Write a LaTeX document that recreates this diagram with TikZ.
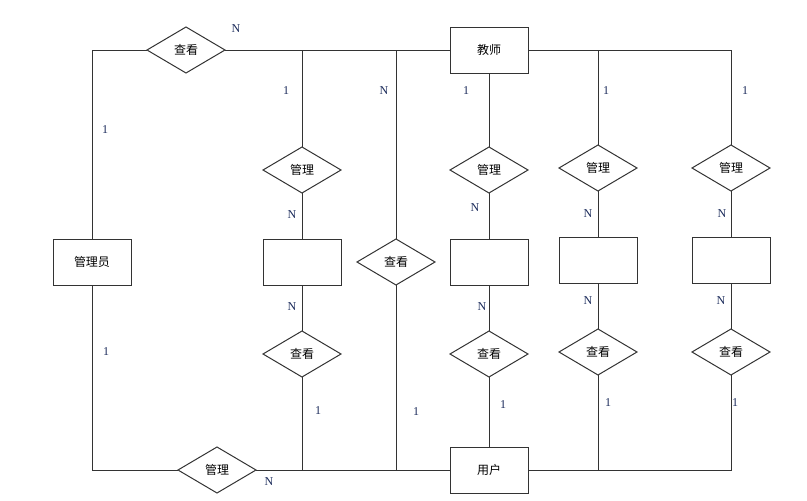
\documentclass[tikz,border=0pt]{standalone}
\usepackage{fontspec}
\setmainfont{Liberation Serif}
\newfontfamily\cjk{Noto Sans CJK SC}
\usetikzlibrary{shapes.geometric}
\definecolor{lbl}{HTML}{1A2A5A}
\tikzset{
  ent/.style={draw=black!80, line width=1pt, rectangle, minimum width=78pt, minimum height=46pt, inner sep=0pt, outer sep=0pt, font=\cjk\fontsize{12}{13}\selectfont},
  rel/.style={draw=black!80, line width=1pt, diamond, aspect=1.7, minimum width=78pt, minimum height=46pt, inner sep=0pt, outer sep=0pt, font=\cjk\fontsize{12}{13}\selectfont},
  conn/.style={draw=black!80, line width=1pt},
  card/.style={text=lbl, font=\fontsize{12}{13}\selectfont, inner sep=0pt}
}
\begin{document}
\begin{tikzpicture}[x=1pt,y=-1pt]
\useasboundingbox (0,0) rectangle (807,501);
% entities
\node[ent] (js) at (489,50) {教师};
\node[ent] (gly) at (92,262) {管理员};
\node[ent] (yh) at (489,470) {用户};
\node[ent] (b1) at (302,262) {};
\node[ent] (b2) at (489,262) {};
\node[ent] (b3) at (598,260) {};
\node[ent] (b4) at (731,260) {};
% relations
\node[rel] (ckt) at (186,50) {查看};
\node[rel] (glb) at (217,470) {管理};
\node[rel] (ckm) at (396,262) {查看};
\node[rel] (g1) at (302,170) {管理};
\node[rel] (c1) at (302,354) {查看};
\node[rel] (g2) at (489,170) {管理};
\node[rel] (c2) at (489,354) {查看};
\node[rel] (g3) at (598,168) {管理};
\node[rel] (c3) at (598,352) {查看};
\node[rel] (g4) at (731,168) {管理};
\node[rel] (c4) at (731,352) {查看};
% connectors
\draw[conn] (gly.north) |- (ckt.west);
\draw[conn] (ckt.east) -- (js.west);
\draw[conn] (g1.north) -- (g1.north |- js.west);
\draw[conn] (ckm.north) -- (ckm.north |- js.west);
\draw[conn] (js.south) -- (g2.north);
\draw[conn] (js.east) -| (g4.north);
\draw[conn] (g3.north) -- (g3.north |- js.east);
\draw[conn] (g1.south) -- (b1.north);
\draw[conn] (b1.south) -- (c1.north);
\draw[conn] (g2.south) -- (b2.north);
\draw[conn] (b2.south) -- (c2.north);
\draw[conn] (c2.south) -- (yh.north);
\draw[conn] (g3.south) -- (b3.north);
\draw[conn] (b3.south) -- (c3.north);
\draw[conn] (g4.south) -- (b4.north);
\draw[conn] (b4.south) -- (c4.north);
\draw[conn] (gly.south) |- (glb.west);
\draw[conn] (glb.east) -- (yh.west);
\draw[conn] (c1.south) -- (c1.south |- yh.west);
\draw[conn] (ckm.south) -- (ckm.south |- yh.west);
\draw[conn] (yh.east) -| (c4.south);
\draw[conn] (c3.south) -- (c3.south |- yh.east);
% cardinalities
\node[card] (l1) at (236,29) {N};
\node[card] (l2) at (105,130) {1};
\node[card] (l3) at (106,352) {1};
\node[card] (l4) at (269,482) {N};
\node[card] (l5) at (286,91) {1};
\node[card] (l6) at (292,215) {N};
\node[card] (l7) at (292,307) {N};
\node[card] (l8) at (318,411) {1};
\node[card] (l9) at (384,91) {N};
\node[card] (l10) at (416,412) {1};
\node[card] (l11) at (466,91) {1};
\node[card] (l12) at (475,208) {N};
\node[card] (l13) at (482,307) {N};
\node[card] (l14) at (503,405) {1};
\node[card] (l15) at (606,91) {1};
\node[card] (l16) at (588,214) {N};
\node[card] (l17) at (588,301) {N};
\node[card] (l18) at (608,403) {1};
\node[card] (l19) at (745,91) {1};
\node[card] (l20) at (722,214) {N};
\node[card] (l21) at (721,301) {N};
\node[card] (l22) at (735,403) {1};
\end{tikzpicture}
\end{document}
